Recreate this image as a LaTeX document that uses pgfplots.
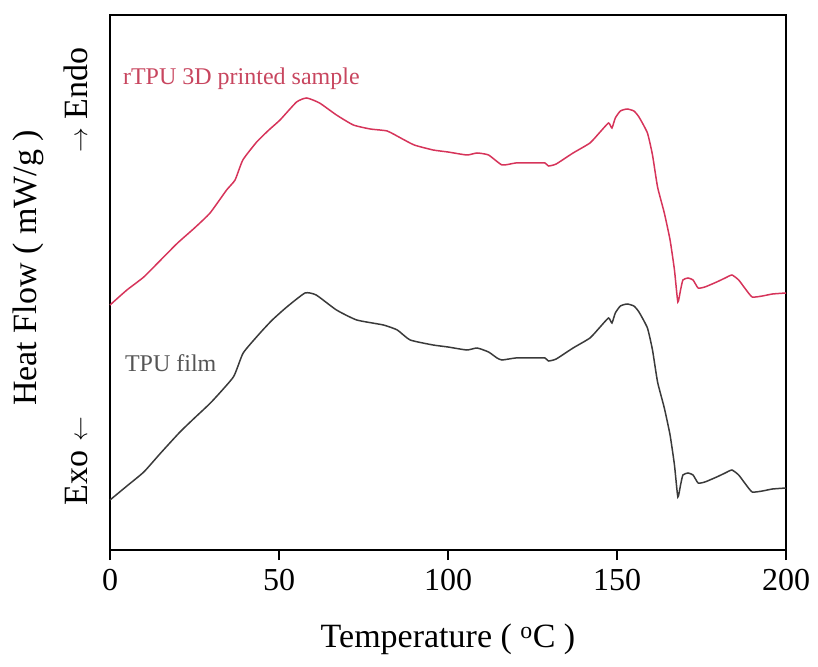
\documentclass[border=0pt]{standalone}
\usepackage{pgfplots}
\pgfplotsset{compat=1.18}
\usepackage{fontspec}
\setmainfont{Liberation Serif}
\definecolor{rtpu}{RGB}{214,52,90}
\definecolor{rtpulab}{RGB}{200,70,95}
\definecolor{tpu}{RGB}{58,58,58}
\definecolor{tpulab}{RGB}{85,85,85}
\begin{document}
\begin{tikzpicture}
\path[use as bounding box] (-110bp,-117bp) rectangle (708bp,550bp);
\begin{axis}[
  at={(0,0)}, anchor=origin,
  scale only axis, width=676bp, height=535bp,
  xmin=0, xmax=200, ymin=0, ymax=535,
  axis line style={line width=1.6bp},
  xtick={0,50,100,150,200}, ytick=\empty,
  xtick pos=bottom, tick align=outside,
  major tick length=10bp,
  every tick/.style={line width=1.4bp, black},
  xticklabel style={font=\fontsize{32bp}{36bp}\selectfont, yshift=-6bp},
  /pgf/number format/assume math mode=true,
  clip=false,
]
\addplot[rtpu, line width=1.5bp, smooth, tension=0.3] coordinates {
(0,245) (5,260) (10,273) (15,290) (20,307) (25,322) (29.6,337) (34.5,360) (37,370)
(39.3,390) (43.4,408) (47,420) (50.3,430) (55.2,448) (58.2,452) (62,447) (67,435)
(72,425) (77,421) (82,419) (86,412) (90,405) (95.6,400) (100,398) (105.6,395)
(108.6,397) (112,395) (116,385) (120,387) (125,387) (128.7,387) (129.7,384) (132,386)
(137,397) (142,407) (145,418) (147.5,427) (148.5,422) (149.5,432) (151,439) (153,441)
(155,439) (156.5,433) (159,417) (160.5,395) (162,363) (164,337) (165.7,310) (167,280)
(168,248) (168.8,260) (169.5,270) (171,272) (172.5,270) (174,262) (176,263) (179.5,268)
(182,272) (184,275) (186,270) (188,261) (190,253) (193,254) (196,256) (200,257)
};
\addplot[tpu, line width=1.5bp, smooth, tension=0.3] coordinates {
(0,50) (5,64) (10,78) (15,97) (20.7,118) (25,132) (30,148) (36.5,173) (39.4,197)
(44.4,217) (48,230) (52.3,243) (57.7,257) (61,255) (67,240) (73,230) (80.9,225)
(85,220) (88.8,210) (95.6,205) (100,203) (105.6,200) (108.6,202) (112,198) (114.5,192)
(116,190) (120,192) (125,192) (128.7,192) (129.7,189) (132,191)
(137,202) (142,212) (145,223) (147.5,232) (148.5,227) (149.5,237) (151,244) (153,246)
(155,244) (156.5,238) (159,222) (160.5,200) (162,168) (164,142) (165.7,115) (167,85)
(168,53) (168.8,65) (169.5,75) (171,77) (172.5,75) (174,67) (176,68) (179.5,73)
(182,77) (184,80) (186,75) (188,66) (190,58) (193,59) (196,61) (200,62)
};
\node[anchor=base west, inner sep=0, text=rtpulab, font=\fontsize{24bp}{28bp}\selectfont]
  at (axis cs:3.8,465) {rTPU 3D printed sample};
\node[anchor=base west, inner sep=0, text=tpulab, font=\fontsize{24bp}{28bp}\selectfont]
  at (axis cs:4.4,178) {TPU film};
\node[anchor=base, inner sep=0, font=\fontsize{34bp}{40bp}\selectfont]
  at (axis cs:100,-97) {Temperature ( \textsuperscript{o}C )};
\end{axis}
\node[rotate=90, anchor=base, inner sep=0, font=\fontsize{34bp}{40bp}\selectfont]
  at (-73bp,282bp) {Heat Flow ( mW/g )};
\node[rotate=90, anchor=base, inner sep=0, font=\fontsize{34bp}{40bp}\selectfont]
  at (-23bp,450bp) {$\rightarrow$ Endo};
\node[rotate=90, anchor=base, inner sep=0, font=\fontsize{34bp}{40bp}\selectfont]
  at (-23bp,89bp) {Exo $\leftarrow$};
\end{tikzpicture}
\end{document}
